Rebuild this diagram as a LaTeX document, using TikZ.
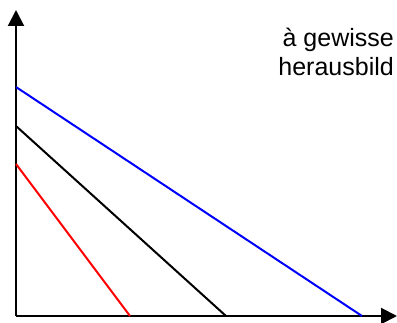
\documentclass[tikz,border=0pt]{standalone}
\usepackage{fontspec}
\setmainfont{Liberation Sans}
\usetikzlibrary{arrows.meta}
\begin{document}
\begin{tikzpicture}[x=1pt,y=-1pt,
  axis/.style={line width=2pt,-{Triangle[length=16pt,width=16pt]}},
  curve/.style={line width=2pt},
  lbl/.style={font=\fontsize{25}{30}\selectfont,inner sep=0pt}]
\useasboundingbox (0,0) rectangle (397,323);
\coordinate (o) at (16,316);
\coordinate (ytop) at (16,10);
\coordinate (xend) at (397,316);
\draw[axis] (o) -- (ytop);
\draw[axis] (o) -- (xend);
\coordinate (b1) at (16,87);
\coordinate (b2) at (362,316);
\coordinate (k1) at (16,126);
\coordinate (k2) at (226,316);
\coordinate (r1) at (16,164);
\coordinate (r2) at (130,316);
\draw[curve,blue] (b1) -- (b2);
\draw[curve,black] (k1) -- (k2);
\draw[curve,red] (r1) -- (r2);
\node[lbl,anchor=base east] (t1) at (394,47) {à gewisse};
\node[lbl,anchor=base east] (t2) at (394,76) {herausbild};
\end{tikzpicture}
\end{document}
